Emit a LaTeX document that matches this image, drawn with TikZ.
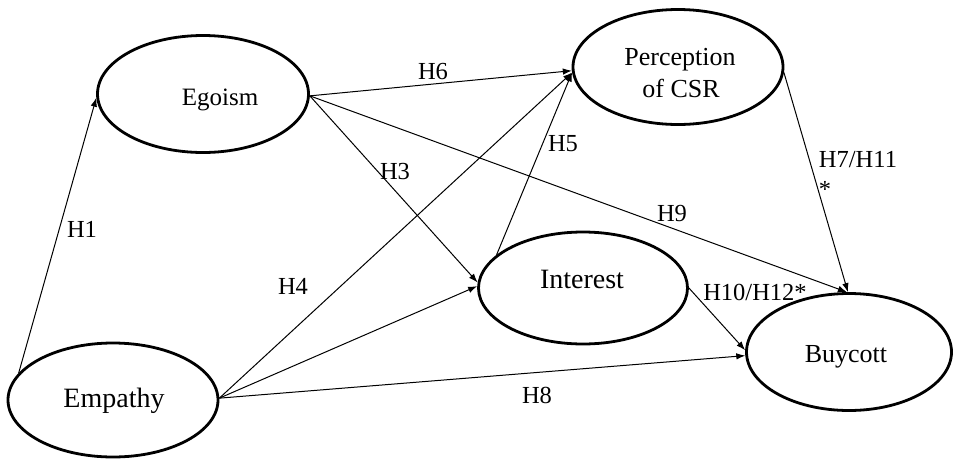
\documentclass[tikz,border=0pt]{standalone}
\usepackage{fontspec}
\setmainfont{Liberation Serif}
\usetikzlibrary{shapes.geometric,arrows.meta}
\begin{document}
\begin{tikzpicture}[x=1pt,y=-1pt,
  construct/.style={ellipse,draw,line width=2.8pt,inner sep=0pt},
  link/.style={line width=1pt,-{Latex[length=9pt,width=6.5pt]}},
  hyp/.style={font=\fontsize{24.5}{29}\selectfont,anchor=base,inner sep=0pt},
  cname/.style={anchor=base,inner sep=0pt}
]
\useasboundingbox (0,0) rectangle (955,461);

% latent constructs
\node[construct,minimum width=211pt,minimum height=117pt] (ego)  at (203,94)  {};
\node[construct,minimum width=210pt,minimum height=115pt] (perc) at (678,67)  {};
\node[construct,minimum width=209pt,minimum height=112pt] (int)  at (583,288) {};
\node[construct,minimum width=210pt,minimum height=114pt] (emp)  at (113,400) {};
\node[construct,minimum width=205pt,minimum height=117pt] (buy)  at (849,352) {};

% construct names
\node[cname,font=\fontsize{25}{30}\selectfont]   (egot)  at (220,105) {Egoism};
\node[cname,font=\fontsize{26}{31}\selectfont]   (perct) at (680,65)  {Perception};
\node[cname,font=\fontsize{26}{31}\selectfont]   (percu) at (681,97)  {of CSR};
\node[cname,font=\fontsize{28}{33}\selectfont]   (intt)  at (582,288) {Interest};
\node[cname,font=\fontsize{28}{33}\selectfont]   (empt)  at (114,407) {Empathy};
\node[cname,font=\fontsize{26}{31}\selectfont]   (buyt)  at (846,362) {Buycott};

% hypothesised paths
\draw[link] (emp.164) -- (ego.182);
\draw[link] (ego.-1)  -- (perc.182);
\draw[link] (ego.-1)  -- (int.177);
\draw[link] (ego.-1)  -- (buy.92);
\draw[link] (emp.1)   -- (perc.183);
\draw[link] (emp.1)   -- (int.179);
\draw[link] (emp.1)   -- (buy.182);
\draw[link] (int.159) -- (perc.183);
\draw[link] (perc.-3) -- (buy.91);
\draw[link] (int.0)   -- (buy.179);

% path labels
\node[hyp] (lh1)  at (82,237)  {H1};
\node[hyp] (lh6)  at (433,79)  {H6};
\node[hyp] (lh3)  at (395,179) {H3};
\node[hyp] (lh5)  at (563,151) {H5};
\node[hyp] (lh9)  at (672,221) {H9};
\node[hyp] (lh7)  at (858,167) {H7/H11};
\node[hyp] (lst)  at (825,197) {*};
\node[hyp] (lh4)  at (293,294) {H4};
\node[hyp] (lh8)  at (537,403) {H8};
\node[hyp] (lh10) at (755,300) {H10/H12*};
\end{tikzpicture}
\end{document}
